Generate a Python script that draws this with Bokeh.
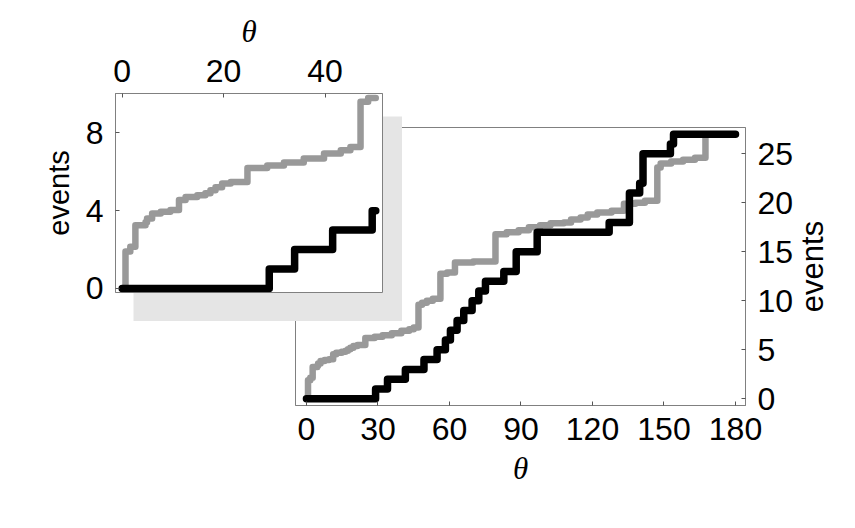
from bokeh.plotting import figure
from bokeh.models import Range1d, FixedTicker, Column
from bokeh.embed import file_html
from bokeh.resources import INLINE

# ---- data ----
# black: cumulative count of events, level reached at each theta
black_theta = [0, 29.0, 34.0, 41.5, 49.3, 54.8, 58.3, 60.4, 63.2, 66.0, 69.5,
               72.3, 75.1, 82.8, 88.0, 96.8, 127.0, 135.5, 139.8, 141.2,
               152.7, 154.0, 180.0]
black_count = [0, 1, 2, 3, 4, 5, 6, 7, 8, 9, 10,
               11, 12, 13, 15, 17, 18, 21, 22, 25,
               26, 27, 27]

# gray: expected (weighted) cumulative count
gray_theta = [0, 0.65, 1.6, 2.6, 4.6, 4.9, 5.9, 7.6, 9.5, 11.2, 12.5, 14.8,
              16.4, 17.4, 18.4, 19.7, 21.4, 24.7, 28.6, 31.9, 35.8, 39.8,
              43.1, 45.0, 47.0, 48.5, 50.5, 53.0, 56.2, 59.0, 62.3, 70.0,
              79.3, 84.0, 89.0, 93.3, 98.0, 102.4, 108.0, 111.0, 115.0,
              118.0, 122.0, 128.0, 133.2, 138.0, 142.0, 147.2, 148.6,
              153.0, 158.0, 163.0, 167.4]
gray_count = [0, 1.9, 2.15, 3.25, 3.4, 3.6, 3.85, 3.95, 4.03, 4.55, 4.7, 4.8,
              4.9, 5.05, 5.2, 5.4, 5.48, 6.2, 6.33, 6.48, 6.68, 6.94,
              7.11, 7.28, 9.6, 9.8, 10.0, 10.2, 12.75, 12.9, 13.9, 14.0,
              16.8, 17.0, 17.2, 17.5, 17.7, 17.9, 18.0, 18.3, 18.5,
              18.8, 19.0, 19.2, 19.9, 20.0, 20.2, 23.6, 24.0,
              24.2, 24.4, 24.6, 27.0]

main_xticks = [0, 30, 60, 90, 120, 150, 180]
main_yticks = [0, 5, 10, 15, 20, 25]
inset_xticks = [0, 20, 40]
inset_yticks = [0, 4, 8]
inset_limit = 50

BLACK = "#000000"
GRAY = "#999999"
SHADOW = "#e5e5e5"
FRAME = "#808080"
TICK_SIZE = "32px"


def truncate(xs, ys, limit):
    ox, oy = [], []
    for x, y in zip(xs, ys):
        if x <= limit:
            ox.append(x)
            oy.append(y)
    ox.append(limit)
    oy.append(oy[-1])
    return ox, oy


def style_axis(ax, ticks):
    ax.ticker = FixedTicker(ticks=ticks)
    ax.axis_line_color = FRAME
    ax.axis_line_width = 1
    ax.major_tick_line_color = "#555555"
    ax.major_tick_in = 4
    ax.major_tick_out = 0
    ax.minor_tick_in = 0
    ax.minor_tick_out = 0
    ax.major_label_text_font = "Liberation Sans"
    ax.major_label_text_font_size = TICK_SIZE
    ax.major_label_text_color = "black"
    ax.major_label_standoff = 12
    ax.axis_label_text_color = "black"


def style_label(ax, text, serif, size):
    ax.axis_label = text
    if serif:
        ax.axis_label_text_font = "Liberation Serif"
        ax.axis_label_text_font_style = "italic"
    else:
        ax.axis_label_text_font = "Liberation Sans"
        ax.axis_label_text_font_style = "normal"
    ax.axis_label_text_font_size = size
    ax.axis_label_standoff = 8


# ---- main plot ----
main = figure(width=830, height=490,
              x_range=Range1d(-4.6, 184.2), y_range=Range1d(-0.68, 27.68),
              x_axis_location="below", y_axis_location="right",
              toolbar_location=None, output_backend="svg",
              min_border_left=287, min_border_top=119,
              min_border_right=93, min_border_bottom=93)
main.frame_align = False
main.grid.visible = False
main.outline_line_color = FRAME
main.outline_line_width = 1
main.background_fill_color = "white"
main.border_fill_color = "white"
style_axis(main.xaxis[0], main_xticks)
style_axis(main.yaxis[0], main_yticks)
style_label(main.xaxis[0], "θ", True, "31px")
main.margin = (8, 0, 0, 8)

main.step(gray_theta, gray_count, mode="after", line_color=GRAY,
          line_width=6.5, line_cap="round", line_join="round")
main.step(black_theta, black_count, mode="after", line_color=BLACK,
          line_width=7.5, line_cap="round", line_join="round")

# ---- holder for the main plot's "events" label (reads bottom-to-top) ----
holder = figure(width=40, height=278, toolbar_location=None,
                output_backend="svg", x_axis_location=None,
                y_axis_location="left",
                min_border_left=38, min_border_right=0,
                min_border_top=0, min_border_bottom=0,
                x_range=Range1d(0, 1), y_range=Range1d(0, 1))
holder.frame_align = False
holder.grid.visible = False
holder.outline_line_color = None
holder.background_fill_alpha = 0
holder.border_fill_alpha = 0
hax = holder.yaxis[0]
hax.ticker = FixedTicker(ticks=[])
hax.axis_line_color = None
hax.major_tick_in = 0
hax.major_tick_out = 0
hax.minor_tick_in = 0
hax.minor_tick_out = 0
hax.major_label_standoff = 0
style_label(hax, "events", False, "31px")
hax.axis_label_text_color = "black"
hax.axis_label_standoff = 0
holder.margin = (127 - 498, 0, 0, 791)

# ---- shadow behind inset ----
shadow = figure(width=269, height=205, toolbar_location=None,
                output_backend="svg", x_axis_location=None,
                y_axis_location=None, min_border=0,
                x_range=Range1d(0, 1), y_range=Range1d(0, 1))
shadow.frame_align = False
shadow.grid.visible = False
shadow.outline_line_color = None
shadow.background_fill_color = SHADOW
shadow.border_fill_color = SHADOW
shadow.margin = (116 - 405, 0, 0, 133)

# ---- inset ----
inset = figure(width=376, height=306,
               x_range=Range1d(-1.32, 51.33), y_range=Range1d(-0.21, 10.03),
               x_axis_location="above", y_axis_location="left",
               toolbar_location=None, output_backend="svg",
               min_border_left=107, min_border_top=85,
               min_border_right=2, min_border_bottom=22)
inset.frame_align = False
inset.grid.visible = False
inset.outline_line_color = FRAME
inset.outline_line_width = 1
inset.background_fill_color = "white"
inset.border_fill_alpha = 0
style_axis(inset.xaxis[0], inset_xticks)
style_axis(inset.yaxis[0], inset_yticks)
style_label(inset.xaxis[0], "θ", True, "31px")
style_label(inset.yaxis[0], "events", False, "29px")
inset.margin = (8 - 321, 0, 184, 8)

gx, gy = truncate(gray_theta, gray_count, inset_limit)
bx, by = truncate(black_theta, black_count, inset_limit)
inset.step(gx, gy, mode="after", line_color=GRAY,
           line_width=6.5, line_cap="round", line_join="round")
inset.step(bx, by, mode="after", line_color=BLACK,
           line_width=7.5, line_cap="round", line_join="round")

layout = Column(children=[main, holder, shadow, inset])

open("out.html", "w").write(file_html(layout, INLINE))
